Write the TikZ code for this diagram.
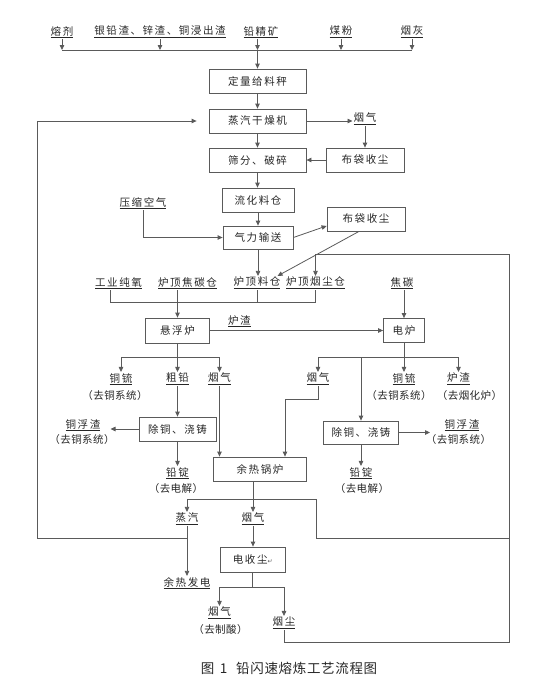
\documentclass[tikz,border=0pt]{standalone}
\usepackage{fontspec}
\usetikzlibrary{arrows.meta,calc}
\newfontfamily\cjk[LetterSpace=15]{Noto Sans CJK SC}
\newfontfamily\cjkn[LetterSpace=4,RawFeature=+halt]{Noto Sans CJK SC}
\newfontfamily\capfont[LetterSpace=5]{Noto Sans CJK SC}
\newfontfamily\symfont{DejaVu Sans}
\newcommand{\ul}[1]{\underline{#1}}
\definecolor{ln}{HTML}{5A5A5A}
\definecolor{tx}{HTML}{262626}
\tikzset{
  ln/.style={draw=ln, line width=0.8pt},
  arr/.style={ln, -{Triangle[length=5pt,width=4.5pt]}},
  box/.style={draw=ln, line width=0.8pt, minimum height=24pt, inner sep=0pt,
    font=\cjk\fontsize{10.5}{12}\selectfont, text=tx},
  lab/.style={inner sep=1pt, font=\cjk\fontsize{10.5}{12}\selectfont, text=tx},
  note/.style={inner sep=1pt, font=\cjkn\fontsize{10.5}{12}\selectfont, text=tx}
}
\begin{document}
\begin{tikzpicture}[x=1pt, y=-1pt]
  \useasboundingbox (0,0) rectangle (560,689);

  % raw materials
  \node[lab] (flux) at (62,32) {\ul{熔剂}};
  \node[lab] (slag) at (160,32) {\ul{银铅渣、锌渣、铜浸出渣}};
  \node[lab] (conc) at (261,32) {\ul{铅精矿}};
  \node[lab] (coal) at (341,32) {\ul{煤粉}};
  \node[lab] (ash) at (412,32) {\ul{烟灰}};
  \coordinate (bus) at (258,50);

  % feed preparation
  \node[box, minimum width=97pt] (feed) at (257.5,81) {定量给料秤};
  \node[box, minimum width=97pt] (dryer) at (257.5,121) {蒸汽干燥机};
  \node[box, minimum width=97pt] (screen) at (257.5,160) {筛分、破碎};
  \node[box, minimum width=78pt] (bag1) at (365,160) {布袋收尘};
  \node[lab] (smoke1) at (365,119) {\ul{烟气}};
  \node[box, minimum width=72pt] (silo) at (258,200) {流化料仓};
  \node[box, minimum width=70pt, minimum height=23pt] (convey) at (258,237.5) {气力输送};
  \node[box, minimum width=78pt] (bag2) at (366,219) {布袋收尘};
  \node[lab] (air) at (143,203) {\ul{压缩空气}};

  % furnace feed
  \node[lab] (o2) at (118.5,283) {\ul{工业纯氧}};
  \node[lab] (coketop) at (187.5,283) {\ul{炉顶焦碳仓}};
  \node[lab] (chargetop) at (257,283) {\ul{炉顶料仓}};
  \node[lab] (dusttop) at (315.5,283) {\ul{炉顶烟尘仓}};
  \node[lab] (coke) at (402,283) {\ul{焦碳}};
  \coordinate (mix) at (177.5,302);

  % furnaces
  \node[box, minimum width=64pt, minimum height=25pt] (flash) at (177.5,330.5) {悬浮炉};
  \node[box, minimum width=41pt] (eaf) at (404,330.5) {电炉};

  % products
  \node[lab] (mattA) at (121,379) {\ul{铜锍}};
  \node[note] (mattAn) at (115,396) {（去铜系统）};
  \node[lab] (crude) at (177.5,379) {\ul{粗铅}};
  \node[lab] (gasA) at (219.5,379) {\ul{烟气}};
  \node[lab] (gasB) at (318,379) {\ul{烟气}};
  \node[lab] (mattB) at (404,379) {\ul{铜锍}};
  \node[note] (mattBn) at (399,396) {（去铜系统）};
  \node[lab] (slagB) at (458.5,379) {\ul{炉渣}};
  \node[note] (slagBn) at (469.5,396) {（去烟化炉）};
  \coordinate (fj) at (177.5,357);
  \coordinate (ej) at (404,357);

  % refining
  \node[box, minimum width=77pt] (decu1) at (177.5,429) {除铜、浇铸};
  \node[box, minimum width=75pt, minimum height=23pt] (decu2) at (361,432.5) {除铜、浇铸};
  \node[lab] (drossA) at (83,425) {\ul{铜浮渣}};
  \node[note] (drossAn) at (82,440) {（去铜系统）};
  \node[lab] (drossB) at (462,425) {\ul{铜浮渣}};
  \node[note] (drossBn) at (458.5,440) {（去铜系统）};
  \node[lab] (ingotA) at (177.5,473) {\ul{铅锭}};
  \node[note] (ingotAn) at (176,489) {（去电解）};
  \node[lab] (ingotB) at (361,473) {\ul{铅锭}};
  \node[note] (ingotBn) at (362,489) {（去电解）};
  \node[box, minimum width=92.6pt] (boiler) at (260,469) {余热锅炉};

  % gas line
  \node[lab] (steam) at (187,519) {\ul{蒸汽}};
  \node[lab] (gasC) at (253,519) {\ul{烟气}};
  \node[box, minimum width=65pt, minimum height=25pt] (esp) at (252.7,559.5)
    {电收尘{\symfont\fontsize{6}{6}\selectfont\color{ln}↵}};
  \node[lab] (power) at (187,583) {\ul{余热发电}};
  \node[lab] (acid) at (219.5,613) {\ul{烟气}};
  \node[note] (acidn) at (220.5,630) {（去制酸）};
  \node[lab] (dust) at (284,623) {\ul{烟尘}};
  \coordinate (sj) at (316,499);
  \coordinate (rmid) at (509.7,538);
  \coordinate (rtop) at (509.7,254);
  \coordinate (rbot) at (509.7,642);
  \coordinate (lbot) at (37,538);

  \node[font=\capfont\fontsize{13.5}{15}\selectfont, text=tx] (cap) at (289,668)
    {图\hspace{2pt} 1\hspace{5pt} 铅闪速熔炼工艺流程图};

  % connectors: top
  \draw[ln] (flux.south |- bus) -- (ash.south |- bus);
  \foreach \n in {flux,slag,coal,ash}
    \draw[arr] (\n.south) -- (\n.south |- bus);
  \draw[arr] (conc.south -| feed.north) -- (feed.north |- bus);
  \draw[arr] (feed.north |- bus) -- (feed.north);
  \draw[arr] (feed.south) -- (dryer.north);
  \draw[arr] (dryer.south) -- (screen.north);
  \draw[arr] (dryer.east) -- (dryer.east -| smoke1.west);
  \draw[arr] (smoke1.south) -- (smoke1.south |- bag1.north);
  \draw[arr] (bag1.west) -- (screen.east);
  \draw[arr] (screen.south) -- (screen.south |- silo.north);
  \draw[arr] (silo.south) -- (convey.north);
  \draw[arr] (air.south) |- (convey.west);
  \draw[arr] (convey.east) -- (bag2.190);
  \draw[arr] ([xshift=-7pt]bag2.south) -- ([xshift=-4pt]chargetop.north east);
  \draw[arr] (convey.south) -- (convey.south |- chargetop.north);

  % connectors: furnaces
  \draw[ln] ([xshift=-8pt]o2.south) |- (mix);
  \draw[ln] (dusttop.south) |- (mix);
  \draw[ln] (chargetop.south) -- (chargetop.south |- mix);
  \draw[arr] (coketop.south -| flash.north) -- (flash.north);
  \draw[arr] (coke.south -| eaf.north) -- (eaf.north);
  \draw[arr] (flash.east) -- node[lab, pos=0.17, above=2pt] (slagA) {\ul{炉渣}} (eaf.west);

  \draw[ln] (mattA.north |- fj) -- (gasA.north |- fj);
  \draw[arr] (mattA.north |- fj) -- (mattA.north);
  \draw[arr] (gasA.north |- fj) -- (gasA.north);
  \draw[arr] (flash.south) -- (crude.north);
  \draw[ln] (gasB.north |- ej) -- (slagB.north |- ej);
  \draw[arr] (gasB.north |- ej) -- (gasB.north);
  \draw[arr] (slagB.north |- ej) -- (slagB.north);
  \draw[arr] (eaf.south) -- (eaf.south |- mattB.north);
  \draw[arr] (decu2.north |- ej) -- (decu2.north);

  % connectors: refining and boiler
  \draw[arr] (crude.south) -- (decu1.north);
  \draw[arr] (decu1.west) -- (decu1.west -| drossAn.east);
  \draw[arr] (decu1.south) -- (decu1.south |- ingotA.north);
  \draw[arr] (decu2.east) -- (decu2.east -| drossBn.west);
  \draw[arr] (decu2.south) -- (decu2.south |- ingotB.north);
  \draw[arr] (gasA.south) -- (gasA.south |- boiler.north);
  \draw[arr] (gasB.south) -- ++(0,13) -| ([xshift=-21.7pt]boiler.north east);

  % connectors: bottom loops
  \draw[arr] (gasC.north |- boiler.south) -- (gasC.north);
  \draw[arr] (rmid) -| (sj) -| (steam.north);
  \draw[arr] (dust.south) |- (rbot) -- (rtop) -| (dusttop.north);
  \draw[arr] (steam.south) -- (power.north);
  \draw[arr, shorten >=12pt] (steam.south |- lbot) -- (lbot) |- (dryer.west);
  \draw[arr] (gasC.south) -- (gasC.south |- esp.north);
  \draw[ln] (esp.south) -- ++(0,15) coordinate (pj);
  \draw[arr] (pj) -| (acid.north);
  \draw[arr] (pj) -| (dust.north);
\end{tikzpicture}
\end{document}
